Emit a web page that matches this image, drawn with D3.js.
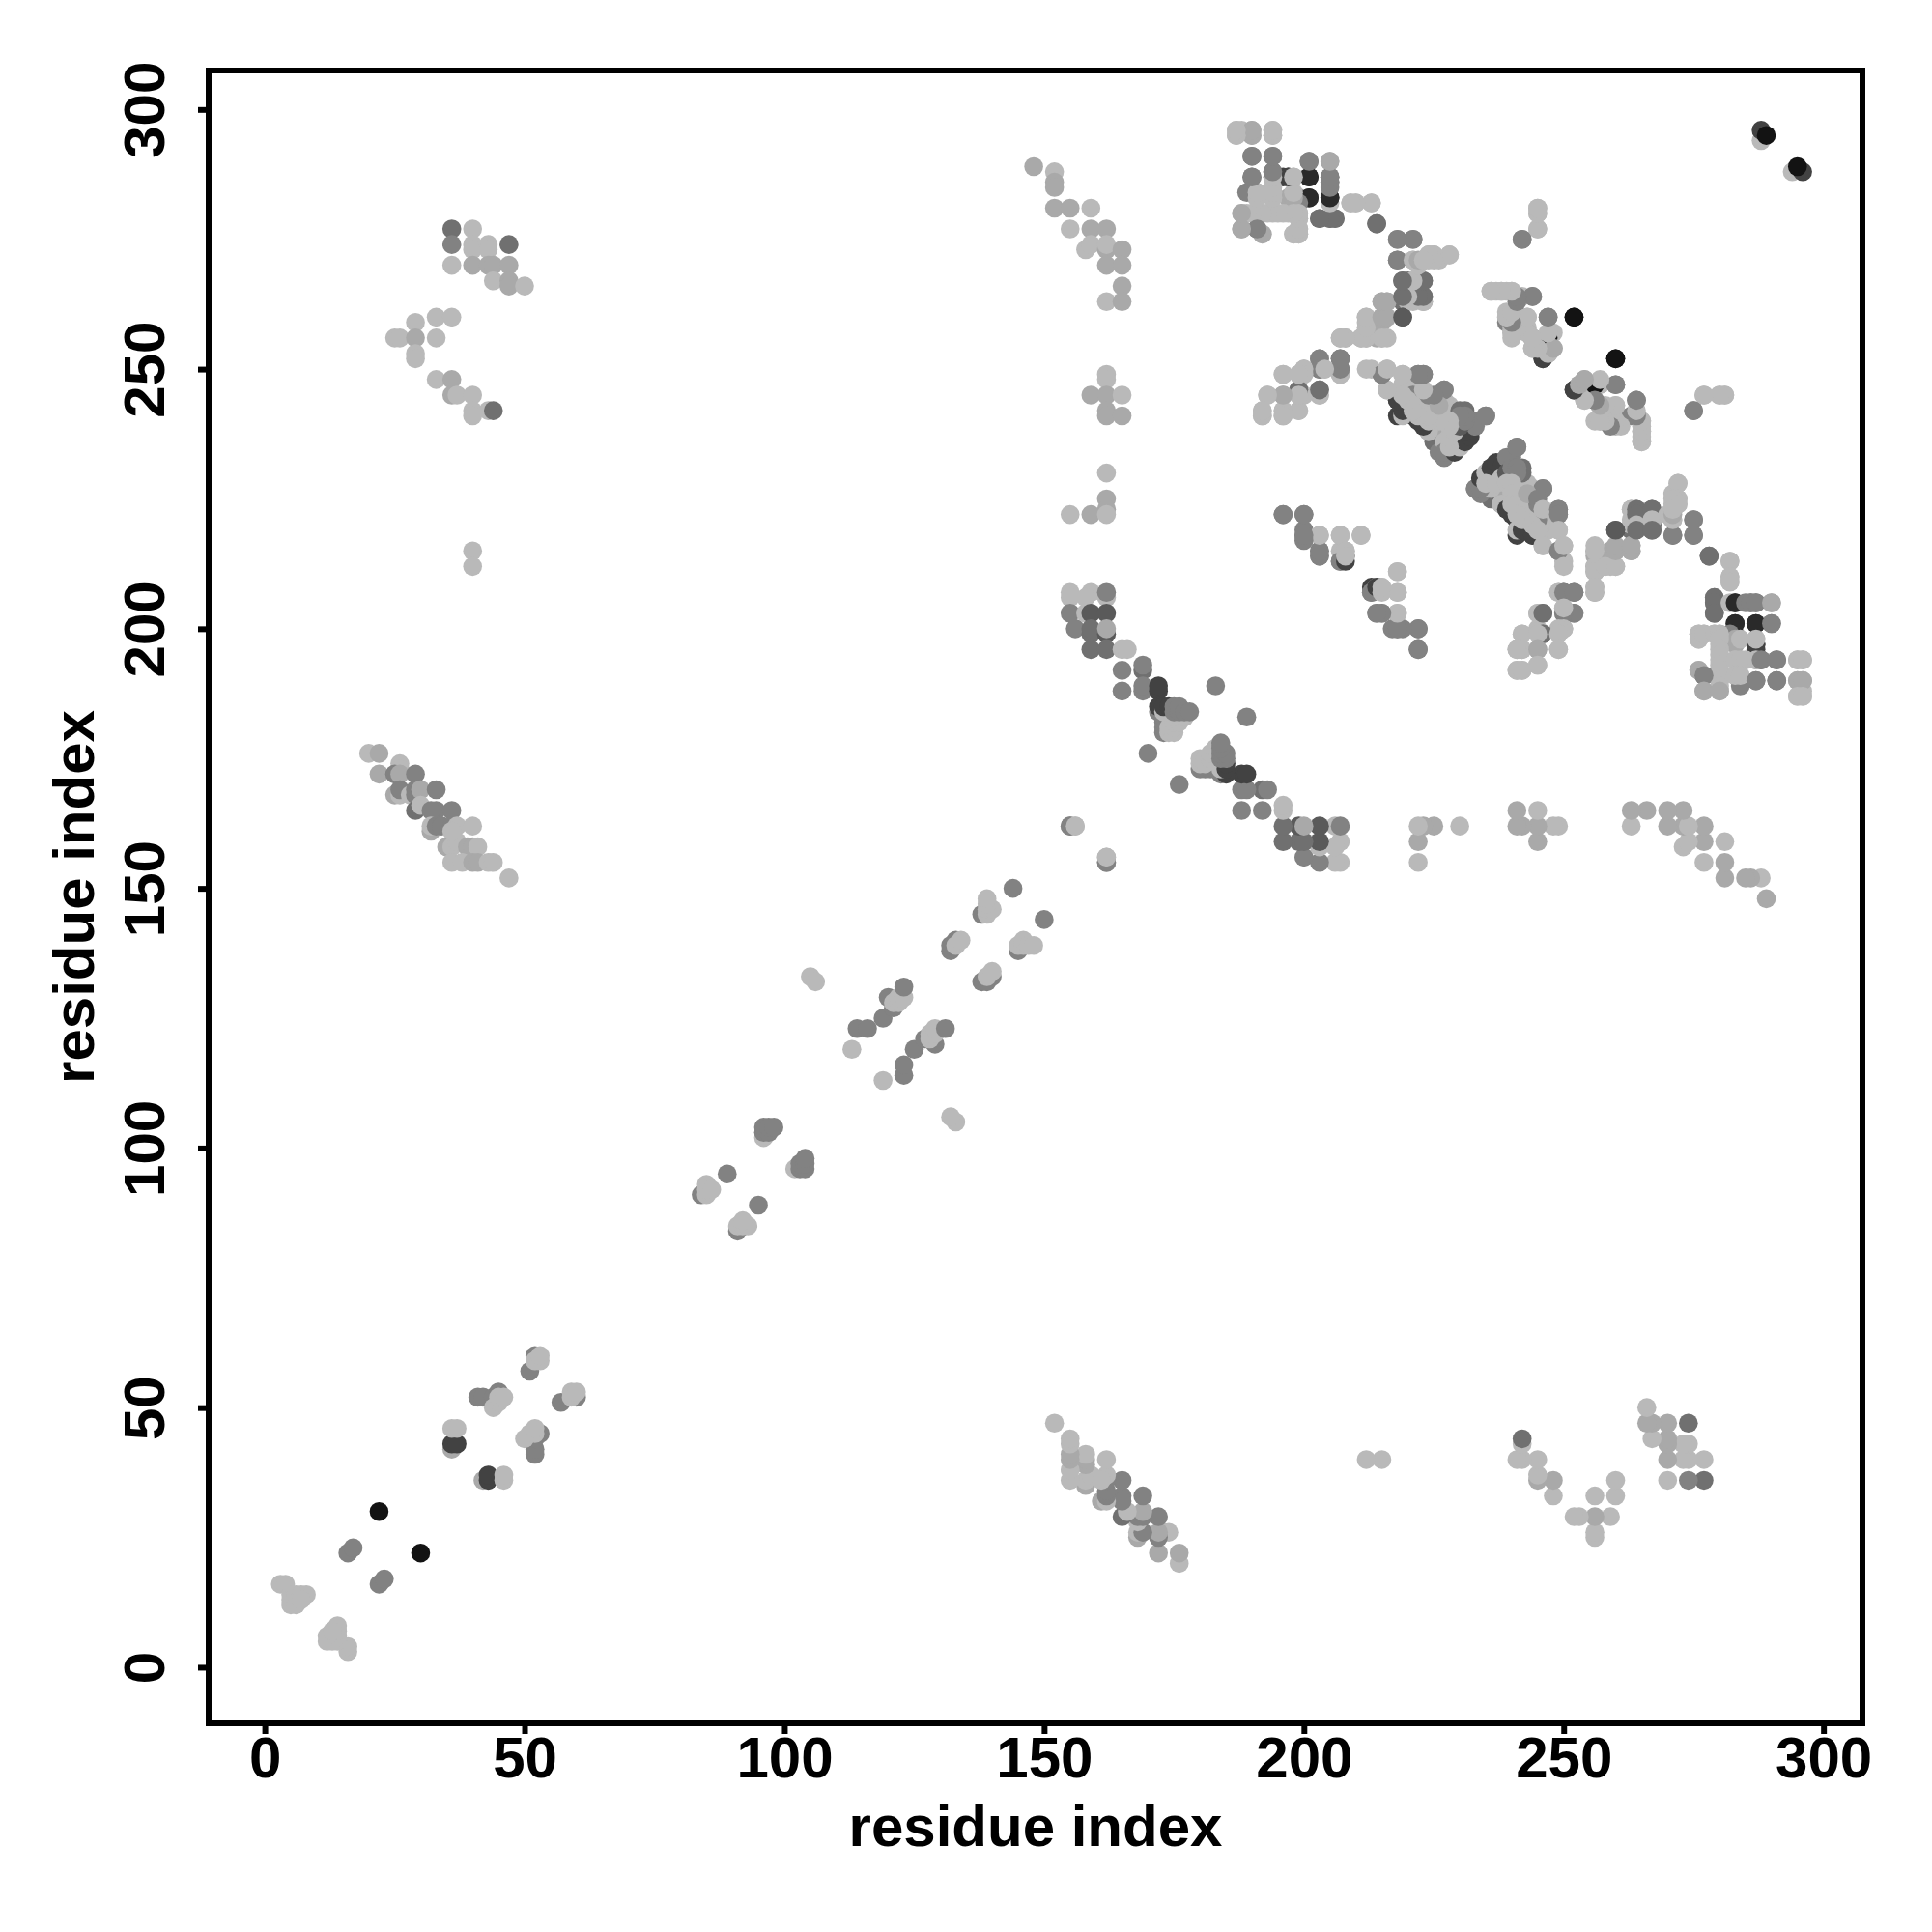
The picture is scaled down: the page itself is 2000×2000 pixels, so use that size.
<!DOCTYPE html>
<html>
<head>
<meta charset="utf-8">
<script src="https://cdn.jsdelivr.net/npm/d3@7/dist/d3.min.js"></script>
<style>html,body{margin:0;padding:0;background:#fff}</style>
</head>
<body>
<svg id="chart" width="2000" height="2000" xmlns="http://www.w3.org/2000/svg"></svg>
<script>
// gray levels used by the contact map, darkest first
const B=0,A=1,E=2,K=3,D=4,G=5,M=6,L=7;
const shadeLevels=["#131313","#2a2a2a","#424242","#5a5a5a","#707070","#828282","#a9a9a9","#b9b9b9"];
const xTicks=[0,50,100,150,200,250,300];
const yTicks=[0,50,100,150,200,250,300];
const axisTitle="residue index";

// each contact: [residue i, residue j (j>i), gray level]; the map is symmetric
const lowDiagonal=[[3,16,L],[4,16,L],[5,14,L],[5,13,L],[6,14,L],[7,14,L],[8,14,L],[5,12,L],[6,12,L],[7,13,L],
[16,22,G],[17,23,G],[22,30,B],[36,42,M],[36,43,E],[37,43,E],[36,46,L],[37,46,L],
[41,52,G],[42,52,G],[44,52,G],[45,53,G],[44,50,L],[45,51,L],[45,52,L],[46,52,L],
[51,57,G],[52,60,G],[52,59,L],[53,59,L],[53,60,L]];
const midDiagonal=[[84,91,G],[85,91,L],[85,92,L],[85,93,L],[86,92,L],[89,95,G],
[96,102,L],[96,103,G],[96,104,G],[97,103,G],[97,104,G],[98,104,G],[105,133,L],[106,132,L],
[114,123,G],[116,123,G],[113,119,L],[119,125,G],[121,127,G],[120,129,G],[121,128,L],[122,128,L],[122,129,L],[123,129,L],[123,131,G],
[132,138,G],[132,139,G],[133,140,G],[133,139,L],[134,140,L],
[138,145,G],[139,145,L],[139,146,L],[140,146,L],[139,147,L],[139,148,L],[144,150,G]];
const blockLeftMid=[[20,176,L],[22,176,M],[22,172,M],[26,174,L],[26,173,L],[25,172,G],[26,172,M],[29,172,G],
[25,168,M],[26,168,L],[26,169,G],[28,168,L],[29,169,G],[29,168,G],[30,169,M],[33,169,G],
[29,165,D],[30,166,L],[33,165,G],[32,165,G],[36,165,G],[32,161,M],[32,162,L],[33,162,G],[34,162,G],[36,162,G],[37,162,L],[40,162,L],
[35,158,M],[36,158,L],[37,159,L],[36,161,L],[39,158,M],[40,158,M],[41,158,L],[36,155,L],[38,155,L],[40,155,M],[41,155,M],[43,155,L],[44,155,L],[47,152,L]];
const blockLeftTop=[[36,277,D],[36,274,G],[36,270,L],[40,277,L],[40,274,L],[40,273,L],[43,274,L],[43,273,L],[47,274,D],
[40,270,M],[43,270,M],[44,270,M],[47,270,M],[44,267,L],[47,267,M],[47,266,M],[50,266,L],
[33,260,L],[36,260,L],[29,259,L],[25,256,L],[26,256,L],[29,256,M],[33,256,L],[29,253,L],[29,252,L],
[33,248,L],[36,248,M],[36,245,M],[37,245,L],[40,245,L],[40,242,L],[40,241,L],[43,242,L],[44,242,D],[40,215,L],[40,212,L]];
const columnNear160=[[148,289,M],[152,288,L],[152,286,M],[152,285,M],[152,281,M],[155,281,M],[159,281,L],[155,277,L],[159,277,M],[162,277,M],
[158,273,L],[159,274,L],[162,273,M],[162,274,L],[165,273,M],[162,270,M],[165,270,M],[165,266,M],[162,263,L],[165,263,M],
[162,249,L],[162,248,L],[159,245,M],[162,245,M],[165,245,L],[162,242,M],[162,241,M],[165,241,M],[162,230,L],[162,225,M],[162,223,M],
[155,222,L],[159,222,M],[162,222,L]];
const blockMain=[[155,162,G],[156,162,L],[162,155,G],[162,156,L],
[155,207,L],[155,206,L],[159,207,L],[158,206,L],[162,206,L],[162,207,G],[155,203,G],[158,203,L],[159,203,K],[162,203,K],
[156,200,G],[159,199,D],[159,200,D],[162,199,K],[162,200,M],[159,196,D],[162,196,D],[165,196,L],[166,196,L]];
const arcMain=[[165,192,G],[169,192,D],[169,193,G],[165,188,G],[169,188,G],[169,189,G],[172,188,E],[172,189,E],
[173,180,G],[173,181,G],[173,182,G],[173,183,G],[172,184,G],[174,180,L],[174,181,L],[175,180,L],[175,181,L],[175,182,L],[176,182,L],[176,183,L],[177,183,L],
[172,185,E],[173,184,L],[173,185,E],[174,185,E],[175,184,G],[175,185,G],[176,184,G],[176,185,G],[177,184,G],[178,184,G],
[170,176,G],[183,189,G]];
const blockTop=[[187,296,L],[187,295,L],[188,296,L],[190,296,M],[190,295,M],[194,296,L],[194,295,L],
[190,291,D],[194,291,G],[201,290,G],[205,290,M],[190,287,G],[194,288,D],[194,287,G],[197,287,E],[198,287,L],[201,287,A],[205,287,D],[205,286,D],
[190,284,G],[191,284,L],[194,284,L],[197,283,M],[199,283,G],[201,283,A],[205,283,A],
[191,283,L],[194,283,L],[188,280,L],[191,280,L],[192,280,L],[194,280,L],[197,280,L],[199,280,L],[199,279,L],[203,279,D],[205,279,D],[206,279,G],
[188,277,M],[191,277,D],[192,276,L],[198,276,L],[199,276,L],[199,277,L],[209,282,L],[210,282,L],[213,282,L],[214,278,D]];
const blockCross=[[218,275,G],[221,275,G],[218,271,G],[221,271,L],[223,271,M],[224,271,L],[224,272,L],[225,272,L],[226,271,L],[228,272,L],
[219,267,D],[220,267,D],[221,267,L],[223,267,D],[219,263,D],[220,263,L],[221,264,L],[223,263,M],[222,264,D],[223,264,D],
[215,263,M],[216,263,M],[212,260,L],[212,259,L],[212,258,L],[215,260,M],[215,259,M],[219,260,K],
[207,256,M],[208,256,M],[211,256,M],[212,256,M],[214,256,M],[215,256,M],
[203,252,G],[207,252,D],[207,249,L],[207,250,D],[203,250,G],[204,250,L],[200,250,L],[199,249,L],[196,249,L],
[203,245,L],[203,246,D],[200,245,L],[199,246,G],[193,245,L],[196,245,M],[192,242,L],[192,241,L],[196,242,M],[196,241,M],[199,242,L]];
const bandUpper=[[218,244,E],[218,241,E],[221,241,E],[222,240,E],[225,236,D],[226,234,G],[227,233,G],[228,234,E],[229,235,E],[232,238,E],[231,236,G],[230,236,E],
[213,250,L],[215,249,G],[216,250,L],[216,246,L],[219,249,L],[222,249,G],[223,249,G],
[219,247,L],[219,245,L],[219,243,L],[219,241,L],[221,247,L],[221,245,G],[221,243,L],[222,243,L],[224,243,L],[222,241,L],[224,241,L],[224,238,L],[226,243,L],[226,240,L],[227,238,M],[228,243,L],[228,240,L],[227,236,L],[229,238,L],[229,236,L],[224,245,G],[227,246,G],
[230,242,D],[231,242,D],[230,240,D],[231,240,G],[232,239,L],[231,238,L],[233,240,G],[235,241,G]];
const bandLower=[[233,227,G],[234,227,G],[234,229,E],[235,230,L],[236,231,E],[235,228,L],[237,232,E],[238,231,E],[239,233,G],[241,235,G],
[237,228,L],[238,229,L],[239,230,K],[240,231,G],[241,231,G],[241,230,G],[239,228,L],[240,228,L],[240,226,L],[238,224,L],[239,223,E],[240,224,L],[241,224,L],[241,222,L],
[244,227,L],[246,227,G],[243,226,M],[245,225,G],[246,223,L],[249,223,G],[249,222,G],[242,219,E],[244,218,E],[242,221,L],[244,220,L],[245,219,L],[249,219,L],[246,216,L],[249,215,G],[250,216,L],[250,212,L]];
const blockUpperRight=[[247,256,B],[256,247,B],[236,265,L],[237,265,L],[238,265,L],[239,265,L],[240,265,L],[241,264,G],[242,264,L],[244,264,G],
[239,261,L],[240,260,L],[239,259,G],[240,258,L],[240,257,L],[243,260,L],[243,258,L],[247,260,G],[252,260,B],
[243,257,M],[244,256,G],[248,257,L],[244,254,L],[246,252,E],[247,253,M],[248,254,M],[260,252,B],
[252,246,E],[253,247,L],[254,248,M],[254,245,L],[254,244,L],[257,247,L],[260,247,G],[257,243,L],[256,244,L],[260,243,L],[264,244,G],
[256,240,L],[257,240,L],[259,240,G],[260,239,L],[261,240,L],[263,241,G],[264,241,G],[265,240,L],[265,238,L],[265,236,L],
[277,245,L],[280,245,L],[281,245,L],[275,242,G],[245,281,L],[245,280,L],[245,277,L],[242,275,G],
[288,294,L],[288,296,E],[289,295,B]];
const blockRightLower=[[196,222,G],[200,222,G],[200,219,G],[200,218,G],[203,218,L],[207,218,L],[211,218,L],
[203,215,G],[203,214,G],[207,213,G],[208,214,E],[207,215,L],[208,215,L],[218,211,L],[218,207,L],[213,207,G],[213,208,E],[215,208,L],[214,208,L],
[214,203,G],[215,203,G],[218,203,L],[217,200,G],[218,200,G],[222,200,G],[222,196,G],
[249,207,L],[250,207,G],[252,207,G],[245,203,L],[246,203,D],[252,203,G],[250,203,G],[250,204,L],[250,200,L],[249,200,L],[246,199,D],[242,199,L],[245,199,L],[249,199,L],
[242,196,L],[241,196,L],[245,196,M],[249,196,L],[245,193,L],[241,192,L],[242,192,L],
[256,216,L],[256,215,L],[256,212,L],[256,211,L],[256,208,L],[256,207,L],[258,212,L],[260,212,L],[260,215,M],[260,216,M],[263,215,M],[263,216,M],[260,219,K],
[263,223,L],[263,221,L],[264,223,D],[264,222,D],[264,220,L],[264,219,D],[267,223,D],[267,221,L],[267,219,D],[271,218,G],[275,221,G],[275,218,G],[270,222,L],[271,221,L],[271,222,M],
[272,228,L],[272,225,L],[271,225,L],[272,224,L],[271,223,L],[278,214,D],[282,213,L],[282,210,L],[282,209,L]];
const blockRightBottom=[[279,206,D],[279,205,D],[279,203,D],[282,205,L],[283,205,A],[285,205,G],[286,205,G],[287,205,G],[290,205,M],[283,201,A],[287,201,A],[290,201,G],
[282,199,G],[283,198,M],[284,198,L],[287,196,E],[287,197,E],[287,198,L],
[276,199,L],[276,198,L],[277,199,L],[279,199,L],[280,199,L],[280,198,L],[280,196,L],[280,195,L],[280,193,L],[280,192,L],[280,190,L],[280,189,L],
[283,194,L],[284,194,L],[285,194,L],[287,194,L],[288,194,G],[291,194,G],[295,194,L],[296,194,L],
[276,192,M],[277,191,G],[277,188,M],[280,188,M],[284,189,G],[283,191,L],[284,191,L],[287,190,G],[291,190,G],[295,190,M],[296,190,M],[295,187,L],[296,187,L]];

const contactGroups=[lowDiagonal,midDiagonal,blockLeftMid,blockLeftTop,columnNear160,blockMain,arcMain,blockTop,blockCross,bandUpper,bandLower,blockUpperRight,blockRightLower,blockRightBottom];

const svg=d3.select("#chart");
const frame={left:216,right:1928,top:73,bottom:1784};
const x=d3.scaleLinear().domain([-10.8,307.5]).range([frame.left,frame.right]);
const y=d3.scaleLinear().domain([-10.8,307.5]).range([frame.bottom,frame.top]);
const fontFamily="'Liberation Sans',Arial,sans-serif";

const dots=svg.append("g");
contactGroups.forEach(group=>{
  const both=[];
  group.forEach(([i,j,s])=>{both.push({x:i,y:j,s});});
  group.forEach(([i,j,s])=>{both.push({x:j,y:i,s});});
  dots.selectAll(null).data(both).join("circle")
    .attr("cx",d=>x(d.x)).attr("cy",d=>y(d.y)).attr("r",9.8)
    .attr("fill",d=>shadeLevels[d.s]);
});

const xAxis=svg.append("g").attr("transform",`translate(0,${frame.bottom})`)
  .call(d3.axisBottom(x).tickValues(xTicks).tickSize(11).tickPadding(12).tickFormat(d3.format("d")));
const yAxis=svg.append("g").attr("transform",`translate(${frame.left},0)`)
  .call(d3.axisLeft(y).tickValues(yTicks).tickSize(11).tickPadding(12).tickFormat(d3.format("d")));
[xAxis,yAxis].forEach(a=>{
  a.select(".domain").remove();
  a.selectAll(".tick line").attr("stroke","#000").attr("stroke-width",6);
  a.selectAll("text").attr("font-family",fontFamily).attr("font-weight","bold").attr("font-size",60).attr("fill","#000");
});
xAxis.selectAll("text").attr("dy",null).attr("y",56);
yAxis.selectAll("text").attr("dy",null).attr("x",null).attr("text-anchor","middle")
  .attr("transform","translate(-46,0) rotate(-90)");

svg.append("rect").attr("x",frame.left).attr("y",frame.top)
  .attr("width",frame.right-frame.left).attr("height",frame.bottom-frame.top)
  .attr("fill","none").attr("stroke","#000").attr("stroke-width",6);

svg.append("text").attr("x",(frame.left+frame.right)/2).attr("y",1911).attr("text-anchor","middle")
  .attr("font-family",fontFamily).attr("font-weight","bold").attr("font-size",60).text(axisTitle);
svg.append("text").attr("transform",`translate(97,${(frame.top+frame.bottom)/2}) rotate(-90)`).attr("text-anchor","middle")
  .attr("font-family",fontFamily).attr("font-weight","bold").attr("font-size",60).text(axisTitle);
</script>
</body>
</html>
